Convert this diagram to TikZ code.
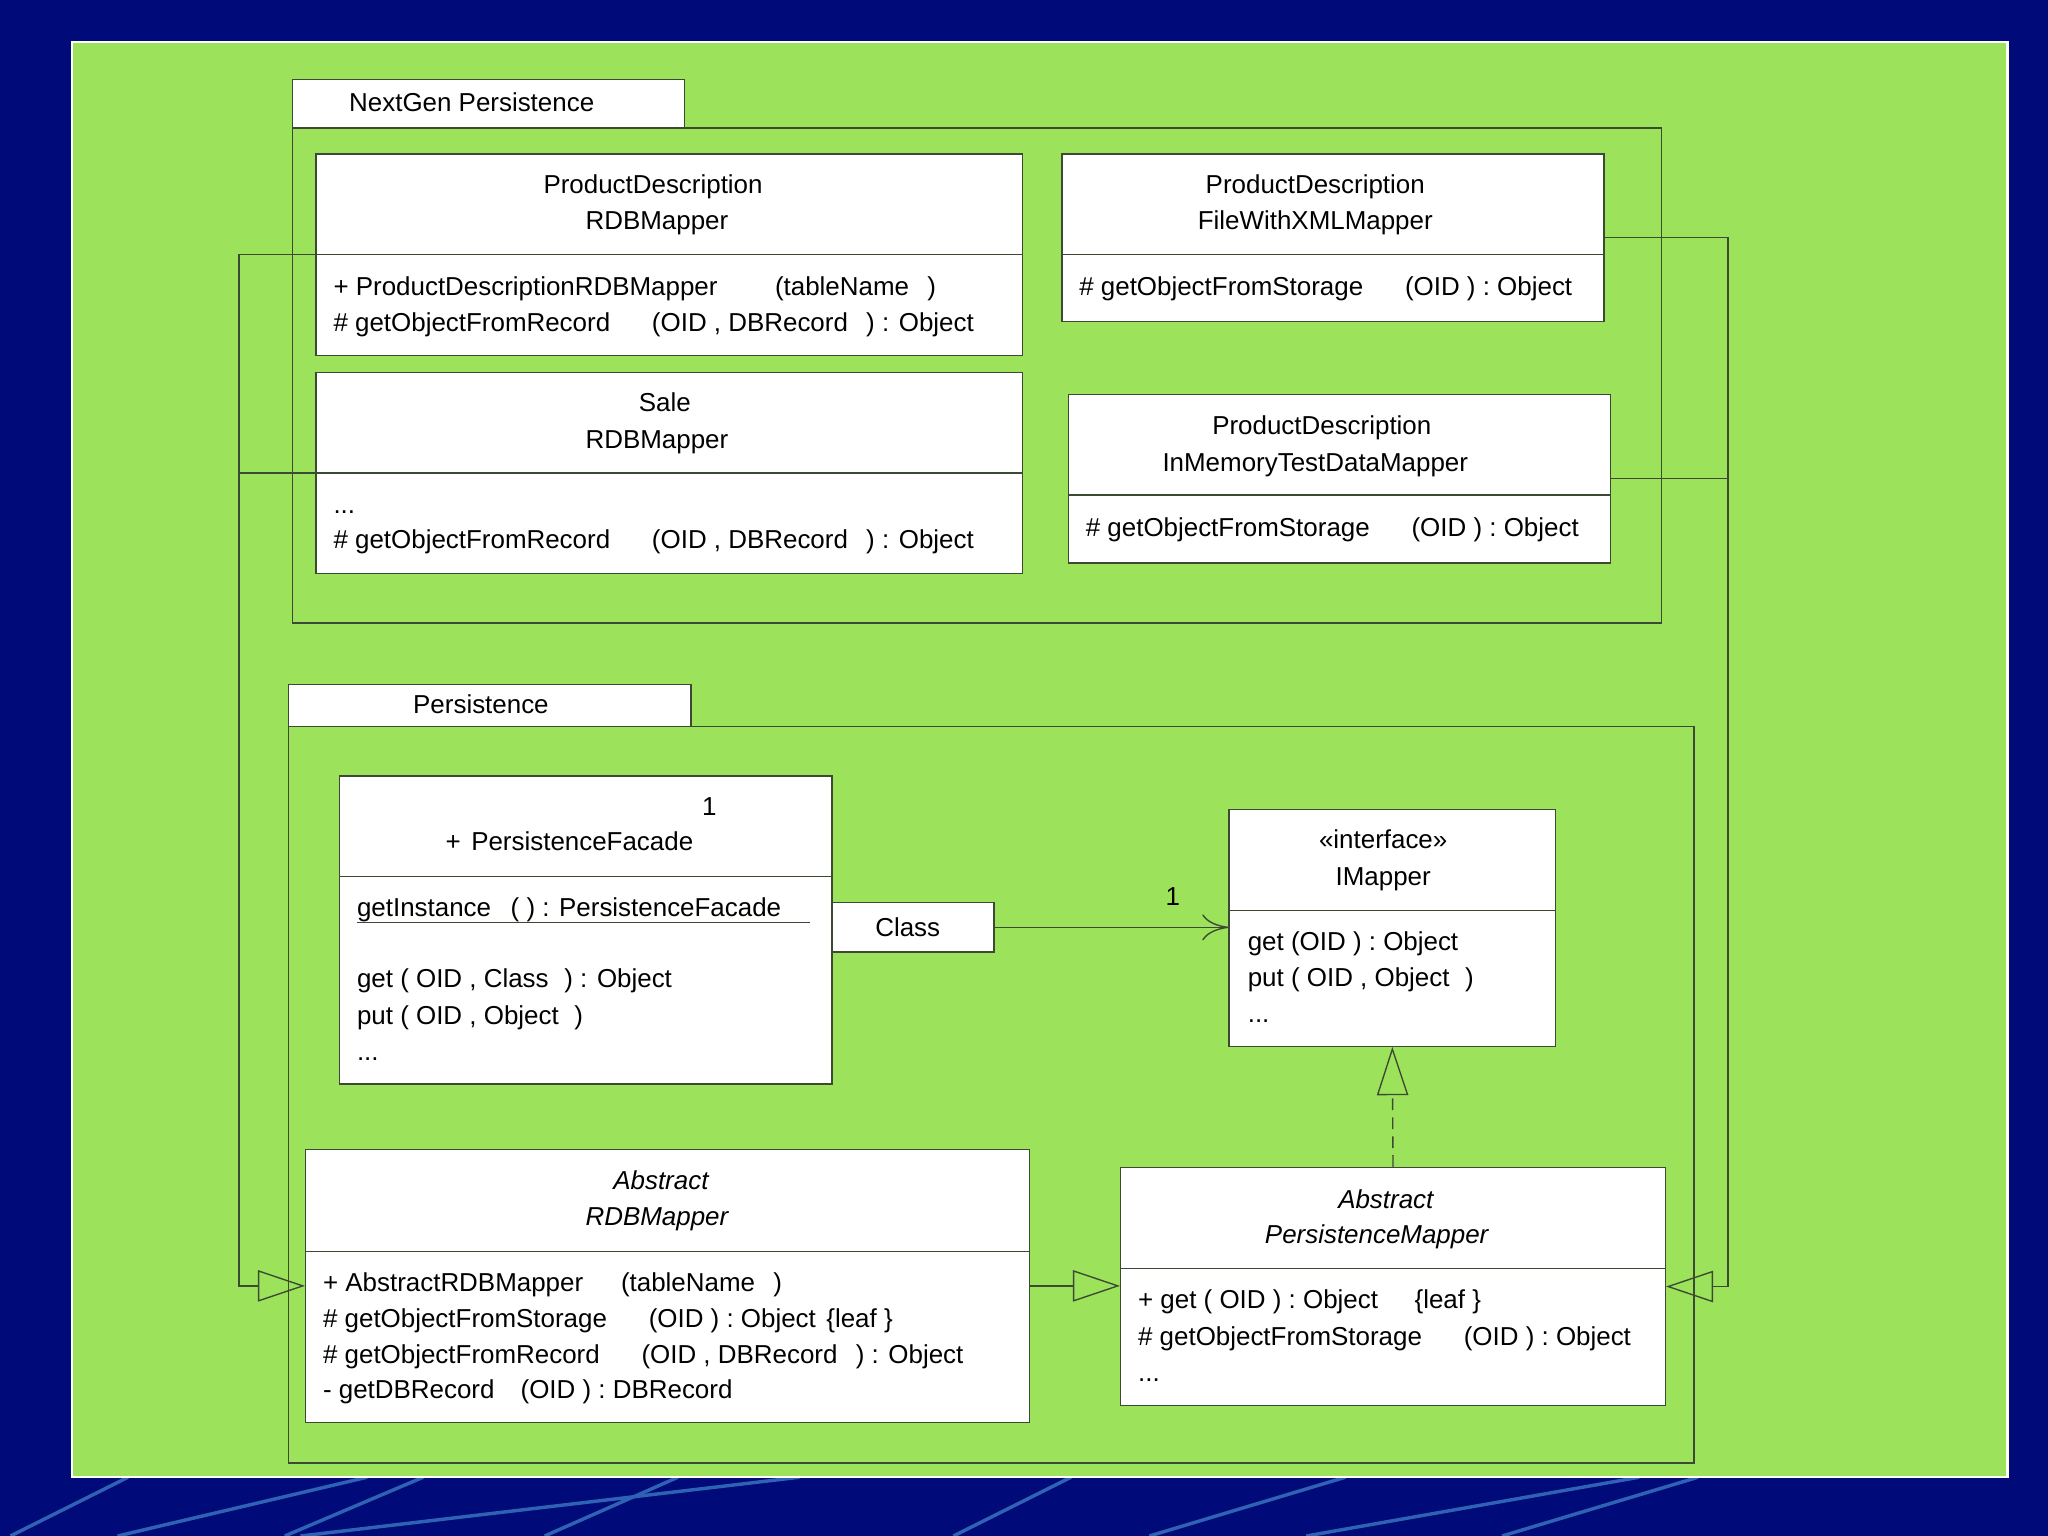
\documentclass[tikz,border=0pt]{standalone}
\usepackage{fontspec}
\setmainfont{Liberation Sans}
\usetikzlibrary{arrows.meta,fit}
\newlength\px \setlength\px{0.02cm}
\def\umldots{...}
\newcommand\umlfont{\fontsize{11.3}{14}\selectfont}
\definecolor{navy}{HTML}{000A78}
\definecolor{slide}{HTML}{9CE35B}
\definecolor{umlline}{HTML}{3C4A34}
\definecolor{streakblue}{HTML}{2F62B5}
\tikzset{
	cls/.style={draw=umlline, fill=white, line width=0.6pt, inner sep=0pt},
	pkgbody/.style={draw=umlline, line width=0.6pt, inner sep=0pt},
	sep/.style={draw=umlline, line width=0.6pt},
	ttl/.style={inner sep=0pt, anchor=base},
	absttl/.style={ttl, font=\umlfont\itshape},
	mbr/.style={inner sep=0pt, anchor=base west},
	link/.style={draw=umlline, line width=0.6pt},
	gen/.style={link, -{Triangle[open, length=0.72cm, width=0.48cm]}},
	real/.style={link, dash pattern=on 0.18cm off 0.11cm, -{Triangle[open, length=0.74cm, width=0.48cm]}},
	nav/.style={link, -{To[length=0.4cm, width=0.4cm]}},
	streak/.style={draw=streakblue, line width=1.5pt},
}
\begin{document}
\begin{tikzpicture}[x=0.02cm, y=-0.02cm, font=\umlfont]
			%%%%% START %%%%%
			\useasboundingbox (0,0) rectangle (1568,1176);
			\fill[navy] (0,0) rectangle (1568,1176);
			\foreach \a/\b in {98/8, 281/90, 324/218, 519/417, 612/230, 820/730, 1030/880, 1255/1000, 1300/1150}
				\draw[streak] (\a,1131) -- (\b,1176);
			\draw[fill=slide, draw=white, line width=1pt] (55,32) rectangle (1537,1131);
			
			% NextGen Persistence
			\node[pkgbody, fit={(224,98) (1272,477)}] (ngpkg) {};
			\node[cls, fit={(224,61) (524,98)}] (ngtab) {};
			\node[mbr] (ngname) at (267,85) {NextGen Persistence};
			
			\node[cls, fit={(242,118) (783,272)}] (pdrdb) {};
			\coordinate (pdrdb-div) at (242,195);
			\draw[sep] (pdrdb-div) -- (pdrdb-div -| pdrdb.east);
			\node[ttl] (pdrdb-t1) at (500,148) {ProductDescription};
			\node[ttl] (pdrdb-t2) at (503,176) {RDBMapper};
			\foreach \m [count=\i] in {{+ ProductDescriptionRDBMapper\hspace{44\px}(tableName\hspace{14\px})},
				{\# getObjectFromRecord\hspace{32\px}(OID , DBRecord\hspace{14\px}) : Object}}
				\node[mbr] (pdrdb-m\i) at (255,{226+28*(\i-1)}) {\m};
			
			\node[cls, fit={(813,118) (1228,246)}] (pdxml) {};
			\coordinate (pdxml-div) at (813,195);
			\draw[sep] (pdxml-div) -- (pdxml-div -| pdxml.east);
			\node[ttl] (pdxml-t1) at (1007,148) {ProductDescription};
			\node[ttl] (pdxml-t2) at (1007,176) {FileWithXMLMapper};
			\node[mbr] (pdxml-m1) at (826,226) {\# getObjectFromStorage\hspace{32\px}(OID ) : Object};
			
			\node[cls, fit={(242,285) (783,439)}] (sale) {};
			\coordinate (sale-div) at (242,362);
			\draw[sep] (sale-div) -- (sale-div -| sale.east);
			\node[ttl] (sale-t1) at (509,315) {Sale};
			\node[ttl] (sale-t2) at (503,343) {RDBMapper};
			\foreach \m [count=\i] in {{\umldots},
				{\# getObjectFromRecord\hspace{32\px}(OID , DBRecord\hspace{14\px}) : Object}}
				\node[mbr] (sale-m\i) at (255,{393+27*(\i-1)}) {\m};
			
			\node[cls, fit={(818,302) (1233,431)}] (pdmem) {};
			\coordinate (pdmem-div) at (818,379);
			\draw[sep] (pdmem-div) -- (pdmem-div -| pdmem.east);
			\node[ttl] (pdmem-t1) at (1012,333) {ProductDescription};
			\node[ttl] (pdmem-t2) at (1007,361) {InMemoryTestDataMapper};
			\node[mbr] (pdmem-m1) at (831,411) {\# getObjectFromStorage\hspace{32\px}(OID ) : Object};
			
			% Persistence
			\node[pkgbody, fit={(221,556) (1297,1120)}] (pspkg) {};
			\node[cls, fit={(221,524) (529,556)}] (pstab) {};
			\node[mbr] (psname) at (316,546) {Persistence};
			
			\node[cls, fit={(260,594) (637,830)}] (fac) {};
			\coordinate (fac-div) at (260,671);
			\draw[sep] (fac-div) -- (fac-div -| fac.east);
			\node[ttl] (fac-one) at (543,624) {1};
			\node[ttl] (fac-t1) at (436,651) {+\hspace{8\px}PersistenceFacade};
			\foreach \m/\y [count=\i] in {{getInstance\hspace{15\px}( ) : PersistenceFacade}/702,
				{get ( OID , Class\hspace{12\px}) : Object}/756, {put ( OID , Object\hspace{12\px})}/784, {\umldots}/812}
				\node[mbr] (fac-m\i) at (273,\y) {\m};
			\draw[sep] (fac-m1.south west) -- ++(347,0);
			
			\node[cls, fit={(637,691) (761,729)}] (qual) {};
			\node (qual-t) at ([xshift=-4\px]qual.center) {Class};
			
			\node[cls, fit={(941,620) (1191,801)}] (imap) {};
			\coordinate (imap-div) at (941,697);
			\draw[sep] (imap-div) -- (imap-div -| imap.east);
			\node[ttl] (imap-t1) at (1059,650) {«interface»};
			\node[ttl] (imap-t2) at (1059,678) {IMapper};
			\foreach \m [count=\i] in {{get (OID ) : Object}, {put ( OID , Object\hspace{12\px})}, {\umldots}}
				\node[mbr] (imap-m\i) at (955,{728+27.5*(\i-1)}) {\m};
			
			\node[cls, fit={(234,880) (788,1089)}] (ardb) {};
			\coordinate (ardb-div) at (234,958);
			\draw[sep] (ardb-div) -- (ardb-div -| ardb.east);
			\node[absttl] (ardb-t1) at (506,911) {Abstract};
			\node[absttl] (ardb-t2) at (503,938) {RDBMapper};
			\foreach \m [count=\i] in {{+ AbstractRDBMapper\hspace{29\px}(tableName\hspace{14\px})},
				{\# getObjectFromStorage\hspace{32\px}(OID ) : Object\hspace{8\px}\{leaf \}},
				{\# getObjectFromRecord\hspace{32\px}(OID , DBRecord\hspace{14\px}) : Object},
				{- getDBRecord\hspace{20\px}(OID ) : DBRecord}}
				\node[mbr] (ardb-m\i) at (247,{989+27.3*(\i-1)}) {\m};
			
			\node[cls, fit={(858,894) (1275,1076)}] (apm) {};
			\coordinate (apm-div) at (858,971);
			\draw[sep] (apm-div) -- (apm-div -| apm.east);
			\node[absttl] (apm-t1) at (1061,925) {Abstract};
			\node[absttl] (apm-t2) at (1054,952) {PersistenceMapper};
			\foreach \m [count=\i] in {{+ get ( OID ) : Object\hspace{28\px}\{leaf \}},
				{\# getObjectFromStorage\hspace{32\px}(OID ) : Object}, {\umldots}}
				\node[mbr] (apm-m\i) at (871,{1002+28*(\i-1)}) {\m};
			
			% connectors
			\coordinate (lbus) at (183,195);
			\coordinate (rbus) at (1323,182);
			\draw[gen] (pdrdb-div) -| (lbus |- ardb.west) -- (ardb.west);
			\draw[link] (sale-div) -- (sale-div -| lbus);
			\draw[gen] (pdxml.east) -| (rbus |- apm.east) -- (apm.east);
			\draw[link] (pdmem.east) -- (pdmem.east -| rbus);
			\draw[gen] (ardb.east) -- (ardb.east -| apm.west);
			\draw[real] (apm.north) -- (imap.south);
			\draw[nav] (qual.east) -- (qual.east -| imap.west);
			\node[ttl] (nav-one) at (898,693) {1};
			%%%%% END %%%%%
\end{tikzpicture}
\end{document}
